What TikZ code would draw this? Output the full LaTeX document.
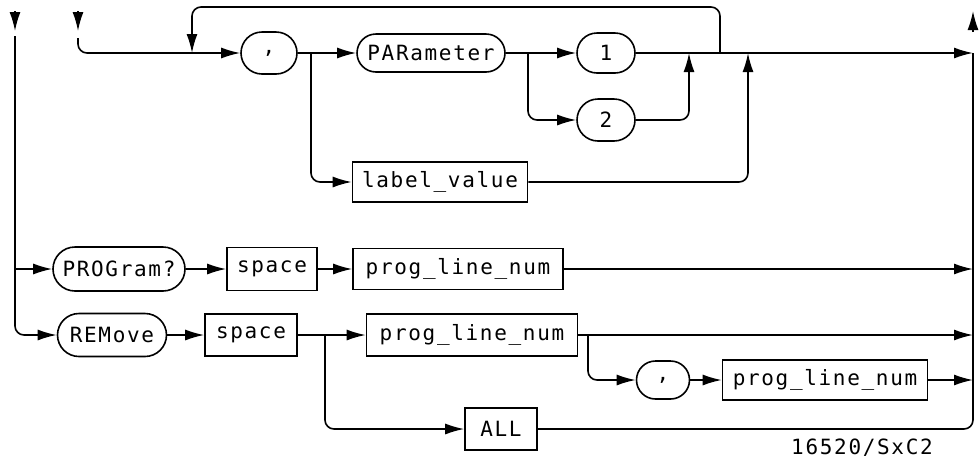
\documentclass[tikz,border=0pt]{standalone}
\usepackage{fontspec}
\newfontfamily\plotfont[LetterSpace=8]{DejaVu Sans Mono}
\usetikzlibrary{shapes.misc,arrows.meta}
\begin{document}
\begin{tikzpicture}[x=1pt,y=-1pt,line width=1.6pt,
  arr/.style={-{Latex[length=19pt,width=11pt]}},
  txt/.style={font=\plotfont\fontsize{21}{21}\selectfont},
  pill/.style={draw,rounded rectangle,inner sep=0pt,txt},
  box/.style={draw,rectangle,inner sep=0pt,txt},
  curve/.style={rounded corners=9pt}]
\useasboundingbox (0,0) rectangle (979,459);
% nodes
\node[pill,minimum width=56pt,minimum height=42pt] (c1) at (269,53) {,};
\node[pill,minimum width=148pt,minimum height=38pt] (par) at (431,53) {PARameter};
\node[pill,minimum width=58pt,minimum height=40pt] (one) at (606,53) {1};
\node[pill,minimum width=58pt,minimum height=42pt] (two) at (606,120) {2};
\node[box,minimum width=175pt,minimum height=40pt] (lv) at (440,182) {label\_value};
\node[pill,minimum width=132pt,minimum height=44pt] (prog) at (119,269) {PROGram?};
\node[box,minimum width=90pt,minimum height=43pt] (sp1) at (272,269) {space};
\node[box,minimum width=210pt,minimum height=41pt] (pl1) at (458,269) {prog\_line\_num};
\node[pill,minimum width=109pt,minimum height=43pt] (rem) at (112,335) {REMove};
\node[box,minimum width=92pt,minimum height=42pt] (sp2) at (251,335) {space};
\node[box,minimum width=211pt,minimum height=42pt] (pl2) at (472,335) {prog\_line\_num};
\node[pill,minimum width=53pt,minimum height=38pt] (c2) at (663,380) {,};
\node[box,minimum width=205pt,minimum height=40pt] (pl3) at (825,380) {prog\_line\_num};
\node[box,minimum width=72pt,minimum height=42pt] (all) at (501,429) {ALL};
\node[txt,inner sep=0pt] (id) at (862,448) {16520/SxC2};
% coordinates
\coordinate (inA0) at (15,11); \coordinate (inA1) at (15,31);
\coordinate (trunkL) at (15,36); \coordinate (trunkLb) at (15,335);
\coordinate (brProg) at (15,269);
\coordinate (inB0) at (78,11); \coordinate (inB1) at (78,31);
\coordinate (inB2) at (78,38); \coordinate (inB3) at (78,53);
\coordinate (loopR0) at (720,53); \coordinate (loopR1) at (720,7);
\coordinate (loopL1) at (192,7); \coordinate (loopL0) at (192,53);
\coordinate (brLv) at (311,53); \coordinate (brLvb) at (311,182);
\coordinate (brTwo) at (528,53); \coordinate (brTwob) at (528,120);
\coordinate (m1) at (689,53); \coordinate (m1b) at (689,120);
\coordinate (m2) at (748,53); \coordinate (m2b) at (748,182);
\coordinate (r1) at (973,53);
\coordinate (out0) at (973,32); \coordinate (out1) at (973,11);
\coordinate (r2) at (973,269);
\coordinate (r3) at (973,335);
\coordinate (r4) at (973,380);
\coordinate (r5) at (973,429);
\coordinate (brAll) at (325,335); \coordinate (brAllb) at (325,429);
\coordinate (brC2) at (588,335); \coordinate (brC2b) at (588,380);
% left entries
\draw[arr] (inA0) -- (inA1);
\draw[arr,curve] (trunkL) -- (trunkLb) -- (rem.west);
\draw[arr] (brProg) -- (prog.west);
\draw[arr] (inB0) -- (inB1);
\draw[arr,curve] (inB2) -- (inB3) -- (c1.west);
% loop
\draw[arr,curve] (loopR0) -- (loopR1) -- (loopL1) -- (loopL0);
% row 1
\draw[arr] (c1.east) -- (par.west);
\draw[arr,curve] (brLv) -- (brLvb) -- (lv.west);
\draw[arr] (par.east) -- (one.west);
\draw[arr,curve] (brTwo) -- (brTwob) -- (two.west);
\draw[arr] (one.east) -- (r1);
\draw[arr,curve] (two.east) -- (m1b) -- (m1);
\draw[arr,curve] (lv.east) -- (m2b) -- (m2);
\draw[arr] (out0) -- (out1);
% right trunk
\draw[curve] (all.east) -- (r5) -- (r1);
% PROGram row
\draw[arr] (prog.east) -- (sp1.west);
\draw[arr] (sp1.east) -- (pl1.west);
\draw[arr] (pl1.east) -- (r2);
% REMove row
\draw[arr] (rem.east) -- (sp2.west);
\draw[arr] (sp2.east) -- (pl2.west);
\draw[arr,curve] (brAll) -- (brAllb) -- (all.west);
\draw[arr] (pl2.east) -- (r3);
\draw[arr,curve] (brC2) -- (brC2b) -- (c2.west);
\draw[arr] (c2.east) -- (pl3.west);
\draw[arr] (pl3.east) -- (r4);
\end{tikzpicture}
\end{document}
